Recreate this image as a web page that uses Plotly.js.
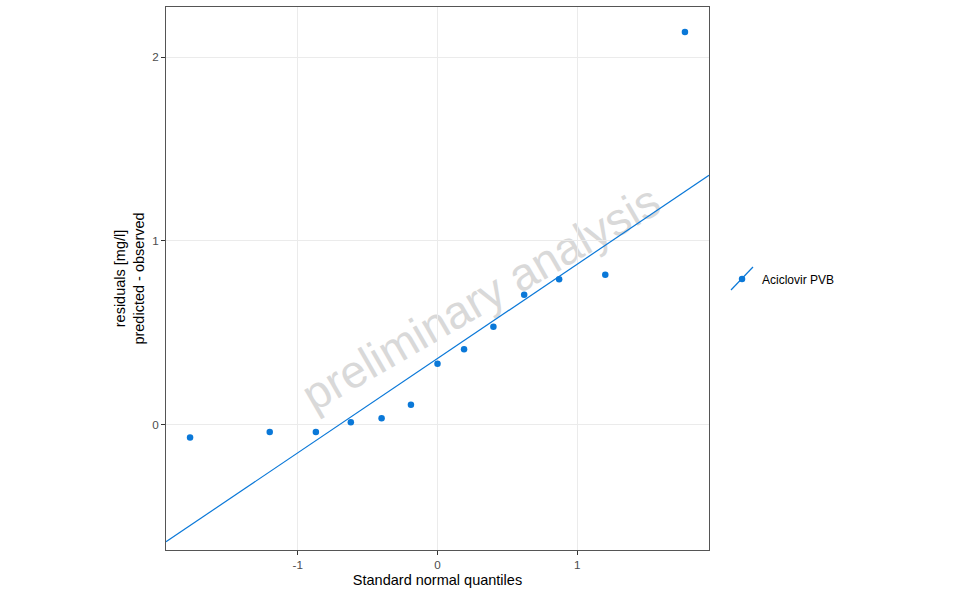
<!DOCTYPE html>
<html>
<head>
<meta charset="utf-8">
<script src="https://cdn.plot.ly/plotly-3.0.1.min.js"></script>
<style>
  html, body { margin: 0; padding: 0; background: #fff; }
  #qqPlot { width: 960px; height: 593px; }
</style>
</head>
<body>
<div id="qqPlot"></div>
<script>
    // ── QQ data ──
    const theoQuantiles = [-1.77, -1.20, -0.87, -0.62, -0.40, -0.19, 0, 0.19, 0.40, 0.62, 0.87, 1.20, 1.77];
    const residuals     = [-0.069, -0.038, -0.038, 0.015, 0.036, 0.110, 0.332, 0.411, 0.534, 0.707, 0.792, 0.817, 2.136];
    const seriesName    = 'Aciclovir PVB';
    const xTicks = [-1, 0, 1];
    const xTickLabels = ['-1', '0', '1'];
    const yTicks = [0, 1, 2];
    const yTickLabels = ['0', '1', '2'];

    const xRange = [-1.942, 1.942];
    const yRange = [-0.680, 2.272];
    const blue = '#0A78D8';

    // qqline: through the first and third quartiles (R type 7)
    function quantile7(arr, p) {
        const s = arr.slice().sort((a, b) => a - b);
        const h = (s.length - 1) * p;
        const lo = Math.floor(h);
        return s[lo] + (h - lo) * ((s[lo + 1] ?? s[lo]) - s[lo]);
    }
    const zq = 0.6744898;
    const q1 = quantile7(residuals, 0.25);
    const q3 = quantile7(residuals, 0.75);
    const slope = (q3 - q1) / (2 * zq);
    const intercept = q1 + slope * zq;
    const lineX = xRange.slice();
    const lineY = lineX.map(x => intercept + slope * x);

    const font = 'Liberation Sans, Arial, sans-serif';

    Plotly.newPlot('qqPlot', [
        {
            x: lineX, y: lineY,
            type: 'scatter', mode: 'lines',
            line: { color: blue, width: 1.2 },
            showlegend: false, hoverinfo: 'skip'
        },
        {
            x: theoQuantiles, y: residuals,
            name: seriesName,
            type: 'scatter', mode: 'markers',
            marker: { color: blue, size: 6.5 },
            hovertemplate: '%{x}<br>%{y}<extra></extra>'
        }
    ], {
        width: 960, height: 593,
        margin: { l: 166, r: 251, t: 7, b: 43 },
        paper_bgcolor: '#fff',
        plot_bgcolor: '#fff',
        font: { family: font, color: '#000' },
        showlegend: true,
        legend: {
            x: 1.024, xanchor: 'left', y: 0.499, yanchor: 'middle',
            font: { family: font, size: 12, color: '#000' },
            bgcolor: 'rgba(0,0,0,0)', borderwidth: 0
        },
        xaxis: {
            range: xRange, tickvals: xTicks, ticktext: xTickLabels,
            showgrid: true, gridcolor: '#ebebeb', gridwidth: 1,
            zeroline: false,
            showline: true, linecolor: '#555', linewidth: 1, mirror: true,
            ticks: 'outside', ticklen: 4, tickcolor: '#333', tickwidth: 1,
            tickfont: { family: font, size: 11.7, color: '#4d4d4d' },
            title: { text: 'Standard normal quantiles', font: { family: font, size: 14.5, color: '#000' }, standoff: 4 }
        },
        yaxis: {
            range: yRange, tickvals: yTicks, ticktext: yTickLabels,
            showgrid: true, gridcolor: '#ebebeb', gridwidth: 1,
            zeroline: false,
            showline: true, linecolor: '#555', linewidth: 1, mirror: true,
            ticks: 'outside', ticklen: 4, tickcolor: '#333', tickwidth: 1,
            tickfont: { family: font, size: 11.7, color: '#4d4d4d' },
            title: { text: 'residuals [mg/l]<br>predicted - observed', font: { family: font, size: 14.5, color: '#000' }, standoff: 4 }
        },
        shapes: [
            // watermark, kept below the data
            {
                type: 'rect', xref: 'paper', yref: 'paper',
                x0: 0.575, x1: 0.577, y0: 0.470, y1: 0.472,
                layer: 'below', line: { width: 0 }, fillcolor: 'rgba(0,0,0,0)',
                label: {
                    text: 'preliminary analysis',
                    textposition: 'middle center', textangle: -30,
                    font: { family: font, size: 46, color: '#d9d9d9' }
                }
            },
            // diagonal key for the qqline in the legend
            {
                type: 'line', xref: 'paper', yref: 'paper',
                x0: 1.0405, y0: 0.4788, x1: 1.081, y1: 0.5212,
                line: { color: blue, width: 1.2 }
            }
        ]
    }, { displayModeBar: false });
</script>
</body>
</html>
